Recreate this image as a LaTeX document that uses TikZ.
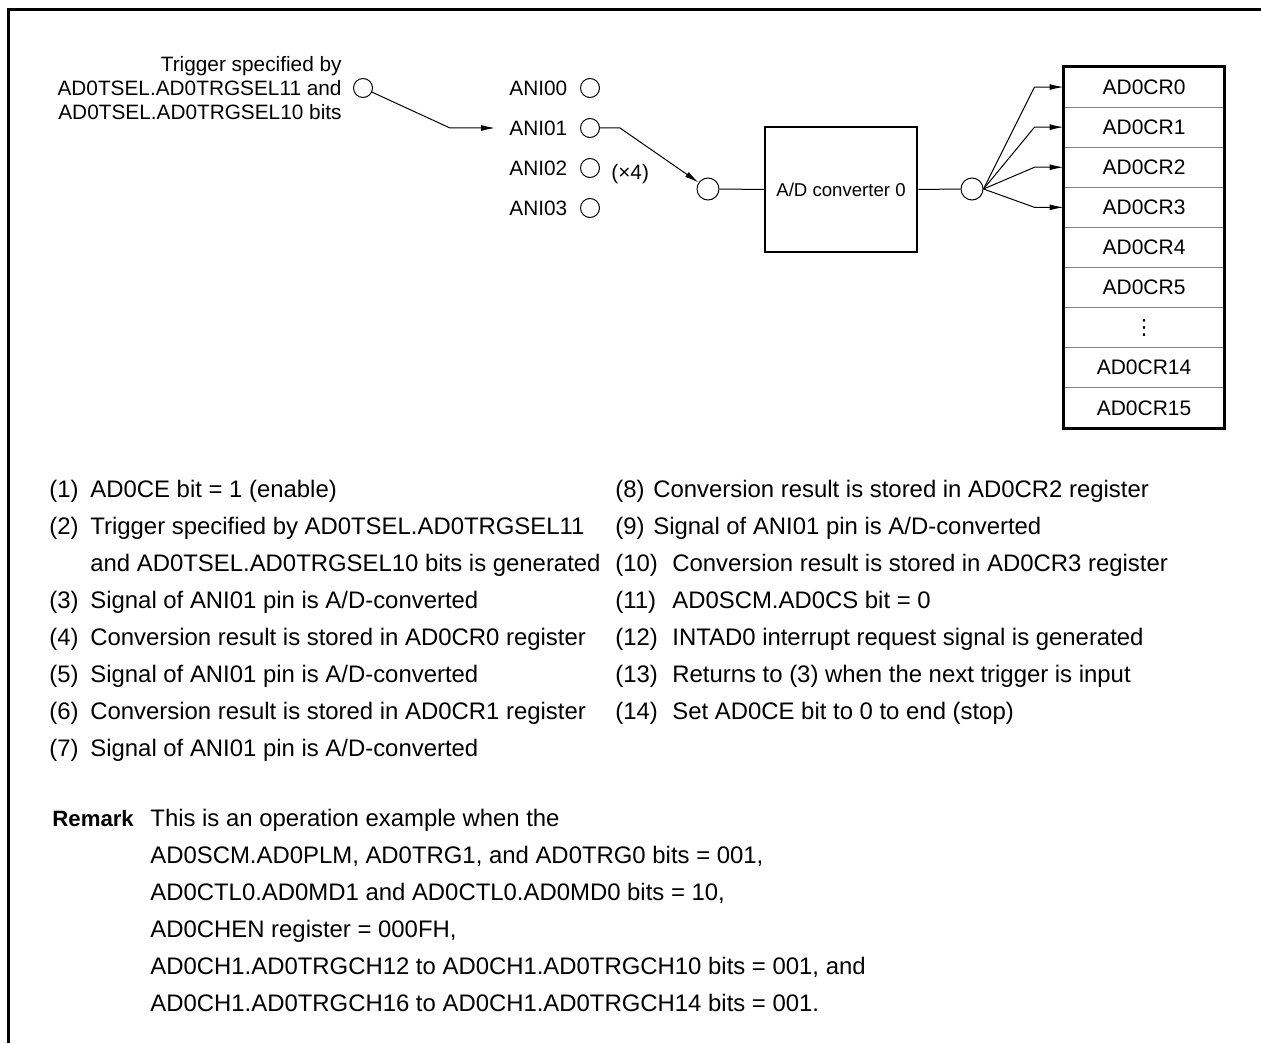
\documentclass[tikz,border=0pt]{standalone}
\usepackage{fontspec}
\setmainfont{Liberation Sans}
\newfontfamily\symfont{DejaVu Sans}
\usepackage{xcolor}
\usetikzlibrary{arrows.meta,positioning,calc}
\definecolor{sepgray}{HTML}{808080}

\tikzset{
  term/.style={circle, draw, line width=0.5pt, minimum size=9.5pt, inner sep=0pt},
  node11/.style={circle, draw, line width=0.5pt, minimum size=11pt, inner sep=0pt},
  lbl/.style={inner sep=0pt, font=\fontsize{10.4}{12}\selectfont},
  reg/.style={draw=sepgray, line width=0.5pt, minimum width=80pt, minimum height=20.05pt,
    inner sep=0pt, font=\fontsize{10.5}{12}\selectfont},
  item/.style={anchor=base west, inner sep=0pt, font=\fontsize{11.95}{14}\selectfont},
  arr/.style={-{Latex[length=7pt,width=3pt]}, line width=0.5pt}
}

\begin{document}
\begin{tikzpicture}[x=0.5pt,y=-0.5pt]
\useasboundingbox (0,0) rectangle (1261,1043);
\draw[line width=1.5pt] (8.3,1043) -- (8.3,9.7) -- (1261,9.7);

\node[term] (trg) at (363,88) {};
\node[lbl, align=right, left=5.5pt of trg] (trgtxt) {Trigger specified by\\AD0TSEL.AD0TRGSEL11 and\\AD0TSEL.AD0TRGSEL10 bits};

\foreach \k in {0,...,3} {
  \node[term] (a\k) at (590,{88+40*\k}) {};
  \node[lbl, left=6.2pt of a\k] (l\k) {ANI0\k};
}
\node[lbl, anchor=west] (cnt) at (611,174) {(×4)};

\draw[arr] (trg) -- (450,128) -- ([xshift=-7pt]l1.west);

\node[node11] (mux) at (708,189) {};
\node[draw, line width=1.25pt, minimum width=76pt, minimum height=62.5pt, inner sep=0pt,
  font=\fontsize{9.3}{11}\selectfont] (adc) at (841,189.5) {A/D converter 0};
\node[node11] (dmx) at (972,189) {};

\draw[arr] (a1.east) -- ++(20,0) -- (mux);
\draw[line width=0.5pt] (mux.east) -- (adc.west);
\draw[line width=0.5pt] (adc.east) -- (dmx.west);

\foreach \k/\t in {0/AD0CR0,1/AD0CR1,2/AD0CR2,3/AD0CR3,4/AD0CR4,5/AD0CR5,6/{{\symfont\fontsize{10.5}{11}\selectfont ⋮}},7/AD0CR14,8/AD0CR15}
  \node[reg] (r\k) at (1144,{87.05+40.1*\k}) {\t};
\draw[line width=1.4pt] (r0.north west) rectangle (r8.south east);

\foreach \k in {0,...,3}
  \draw[arr] (dmx.east) -- ($(r\k.west)+(-29,0)$) -- (r\k.west);

\node[item] (s1) at (49,497) {\makebox[20.5pt][l]{(1)}AD0CE bit = 1 (enable)};
\node[item] (s2) at (49,534.1) {\makebox[20.5pt][l]{(2)}Trigger specified by AD0TSEL.AD0TRGSEL11};
\node[item] (s2b) at (90,571.2) {and AD0TSEL.AD0TRGSEL10 bits is generated};
\node[item] (s3) at (49,608.3) {\makebox[20.5pt][l]{(3)}Signal of ANI01 pin is A/D-converted};
\node[item] (s4) at (49,645.4) {\makebox[20.5pt][l]{(4)}Conversion result is stored in AD0CR0 register};
\node[item] (s5) at (49,682.5) {\makebox[20.5pt][l]{(5)}Signal of ANI01 pin is A/D-converted};
\node[item] (s6) at (49,719.6) {\makebox[20.5pt][l]{(6)}Conversion result is stored in AD0CR1 register};
\node[item] (s7) at (49,756.7) {\makebox[20.5pt][l]{(7)}Signal of ANI01 pin is A/D-converted};

\node[item] (s8) at (615,497) {\makebox[19pt][l]{(8)}Conversion result is stored in AD0CR2 register};
\node[item] (s9) at (615,534.1) {\makebox[19pt][l]{(9)}Signal of ANI01 pin is A/D-converted};
\node[item] (s10) at (615,571.2) {\makebox[28.5pt][l]{(10)}Conversion result is stored in AD0CR3 register};
\node[item] (s11) at (615,608.3) {\makebox[28.5pt][l]{(11)}AD0SCM.AD0CS bit = 0};
\node[item] (s12) at (615,645.4) {\makebox[28.5pt][l]{(12)}INTAD0 interrupt request signal is generated};
\node[item] (s13) at (615,682.5) {\makebox[28.5pt][l]{(13)}Returns to (3) when the next trigger is input};
\node[item] (s14) at (615,719.6) {\makebox[28.5pt][l]{(14)}Set AD0CE bit to 0 to end (stop)};

\node[item, font=\fontsize{11.1}{14}\selectfont\bfseries] (rmk) at (52,826) {Remark};
\node[item] (m1) at (150,826) {This is an operation example when the};
\node[item] (m2) at (150,863) {AD0SCM.AD0PLM, AD0TRG1, and AD0TRG0 bits = 001,};
\node[item] (m3) at (150,900) {AD0CTL0.AD0MD1 and AD0CTL0.AD0MD0 bits = 10,};
\node[item] (m4) at (150,937) {AD0CHEN register = 000FH,};
\node[item] (m5) at (150,974) {AD0CH1.AD0TRGCH12 to AD0CH1.AD0TRGCH10 bits = 001, and};
\node[item] (m6) at (150,1011) {AD0CH1.AD0TRGCH16 to AD0CH1.AD0TRGCH14 bits = 001.};
\end{tikzpicture}
\end{document}
